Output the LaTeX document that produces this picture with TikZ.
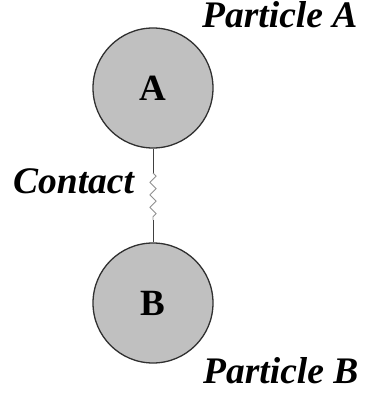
\documentclass[tikz,border=0pt]{standalone}
\usepackage{fontspec}
\setmainfont{Liberation Serif}
\usetikzlibrary{decorations.pathmorphing}
\definecolor{ballfill}{HTML}{C0C0C0}
\definecolor{balledge}{HTML}{303030}
\definecolor{rodcol}{HTML}{404040}
\definecolor{springcol}{HTML}{909090}
\begin{document}
\begin{tikzpicture}[x=1pt,y=-1pt,
  ball/.style={circle,draw=balledge,fill=ballfill,line width=1.3pt,minimum size=120pt,inner sep=0pt,font=\fontsize{37}{40}\selectfont\bfseries},
  lbl/.style={anchor=base west,inner sep=0pt,font=\fontsize{37.5}{40}\selectfont\bfseries\itshape},
  rod/.style={draw=rodcol,line width=0.9pt},
  springline/.style={draw=springcol,line width=0.9pt,decorate,decoration={zigzag,segment length=12.5pt,amplitude=3pt}}]
\useasboundingbox (0,0) rectangle (364,398);
\node[ball] (pa) at (153,88) {A};
\node[ball] (pb) at (153,303) {B};
\coordinate (c1) at (153,173);
\coordinate (c2) at (153,220);
\draw[rod] (pa.south) -- (c1);
\draw[springline] (c1) -- (c2);
\draw[rod] (c2) -- (pb.north);
\node[lbl] (la) at (202,28) {Particle A};
\node[lbl] (lb) at (203,383) {Particle B};
\node[lbl] (lc) at (13,193) {Contact};
\end{tikzpicture}
\end{document}
